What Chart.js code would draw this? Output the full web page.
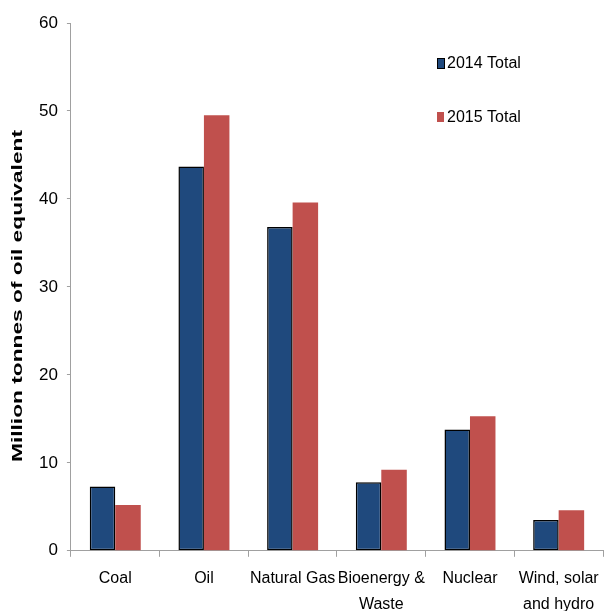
<!DOCTYPE html>
<html><head><meta charset="utf-8">
<script src="https://cdn.jsdelivr.net/npm/chart.js@4"></script>
<style>html,body{margin:0;padding:0;background:#fff;}#w{width:604px;height:611px;}</style>
</head><body><div id="w"><canvas id="c" width="604" height="611"></canvas></div>
<script>
const categories = ["Coal", "Oil", "Natural Gas", ["Bioenergy &", "Waste"], "Nuclear", ["Wind, solar", "and hydro"]];
const total2014 = [7.3, 43.7, 36.8, 7.8, 13.8, 3.5];
const total2015 = [5.2, 49.5, 39.6, 9.2, 15.3, 4.6];
const yTicks = [0, 10, 20, 30, 40, 50, 60];
const seriesLabels = ["2014 Total", "2015 Total"];
const yTitle = "Million tonnes of oil equivalent";

const FONT = "'Liberation Sans', Arial, sans-serif";

const legendPlugin = {
  id: 'customLegend',
  afterDraw(chart) {
    const ctx = chart.ctx;
    const pos = [{x: 437, y: 63}, {x: 437, y: 117}];
    chart.data.datasets.forEach((ds, i) => {
      const p = pos[i];
      ctx.save();
      ctx.fillStyle = ds.backgroundColor;
      ctx.fillRect(p.x, p.y - 5, 7, 10);
      if (ds.borderWidth) {
        ctx.strokeStyle = '#000';
        ctx.lineWidth = 1;
        ctx.strokeRect(p.x + 0.5, p.y - 4.5, 7, 10);
      }
      ctx.fillStyle = '#000';
      ctx.font = "16px " + FONT;
      ctx.textBaseline = 'middle';
      ctx.fillText(ds.label, p.x + 10, p.y + 1);
      ctx.restore();
    });
  }
};

const yTitlePlugin = {
  id: 'yTitle',
  afterDraw(chart) {
    const ctx = chart.ctx;
    ctx.save();
    ctx.font = "bold 15px " + FONT;
    const w = ctx.measureText(yTitle).width;
    ctx.translate(18, 296);
    ctx.rotate(-Math.PI / 2);
    ctx.scale(332 / w, 1);
    ctx.fillStyle = '#000';
    ctx.textAlign = 'center';
    ctx.textBaseline = 'middle';
    ctx.fillText(yTitle, 0, 0);
    ctx.restore();
  }
};

new Chart(document.getElementById('c'), {
  type: 'bar',
  data: {
    labels: categories,
    datasets: [
      {label: seriesLabels[0], data: total2014, backgroundColor: '#1F497D', borderColor: '#000', borderWidth: 1.5, borderSkipped: false},
      {label: seriesLabels[1], data: total2015, backgroundColor: '#C0504D', borderWidth: 0}
    ]
  },
  options: {
    responsive: false,
    animation: false,
    layout: {padding: {top: 23, right: 1, bottom: -15, left: 30}},
    datasets: {bar: {barPercentage: 1.0, categoryPercentage: 0.575}},
    plugins: {legend: {display: false}, tooltip: {enabled: false}},
    scales: {
      x: {
        afterFit(axis) { axis.paddingRight = 0; },
        grid: {display: true, drawOnChartArea: false, drawTicks: true, tickLength: 6, color: '#a0a0a0', offset: true},
        border: {display: true, color: '#a0a0a0', width: 1},
        ticks: {color: '#000', font: {family: FONT, size: 16, lineHeight: 1.6}, padding: 9, maxRotation: 0, autoSkip: false}
      },
      y: {
        min: 0, max: 60,
        afterBuildTicks(axis) { axis.ticks = yTicks.map(v => ({value: v})); },
        grid: {display: true, drawOnChartArea: false, drawTicks: true, tickLength: 4, color: '#a0a0a0'},
        border: {display: true, color: '#a0a0a0', width: 1},
        ticks: {color: '#000', font: {family: FONT, size: 17}, padding: 9},
        title: {display: false}
      }
    }
  },
  plugins: [legendPlugin, yTitlePlugin]
});
</script></body></html>
